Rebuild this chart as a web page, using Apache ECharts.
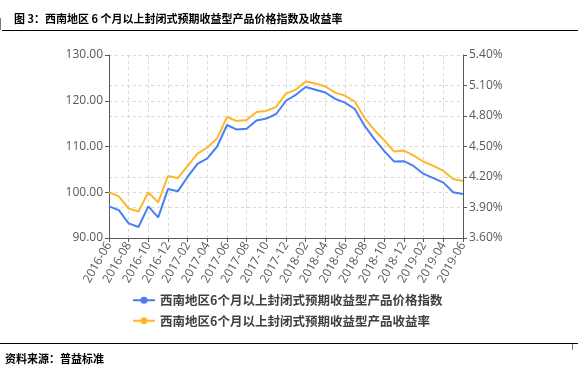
<!DOCTYPE html>
<html>
<head>
<meta charset="utf-8">
<script src="https://cdn.jsdelivr.net/npm/echarts@6/dist/echarts.min.js"></script>
<style>
  html, body { margin: 0; padding: 0; background: #fff; }
  #chart { width: 578px; height: 376px; }
</style>
</head>
<body>
<div id="chart"></div>
<script>
// 月份
const months = [
  '2016-06', '2016-07', '2016-08', '2016-09', '2016-10', '2016-11', '2016-12',
  '2017-01', '2017-02', '2017-03', '2017-04', '2017-05', '2017-06', '2017-07',
  '2017-08', '2017-09', '2017-10', '2017-11', '2017-12', '2018-01', '2018-02',
  '2018-03', '2018-04', '2018-05', '2018-06', '2018-07', '2018-08', '2018-09',
  '2018-10', '2018-11', '2018-12', '2019-01', '2019-02', '2019-03', '2019-04',
  '2019-05', '2019-06'
]
// 价格指数（左轴）
const priceIndex = [
  96.9, 96.1, 93.2, 92.4, 96.9, 94.5, 100.7, 100.2, 103.4, 106.2, 107.4, 110.0,
  114.7, 113.7, 113.9, 115.7, 116.1, 117.1, 120.0, 121.3, 123.0, 122.4, 121.8,
  120.4, 119.6, 118.2, 114.5, 111.6, 109.0, 106.7, 106.8, 105.7, 104.0, 103.1,
  102.1, 100.0, 99.6
]
// 收益率 %（右轴）
const yieldRate = [
  4.05, 4.01, 3.89, 3.86, 4.05, 3.95, 4.21, 4.19, 4.31, 4.43, 4.49, 4.58,
  4.79, 4.75, 4.76, 4.84, 4.85, 4.89, 5.02, 5.06, 5.14, 5.12, 5.09,
  5.03, 5.00, 4.94, 4.78, 4.66, 4.56, 4.45, 4.46, 4.41, 4.35, 4.31,
  4.26, 4.18, 4.16
]

const nameIndex = '西南地区6个月以上封闭式预期收益型产品价格指数'
const nameYield = '西南地区6个月以上封闭式预期收益型产品收益率'

const cjk = '"Noto Sans CJK SC", sans-serif'
const axisColor = '#595959'
const gridLine = { show: true, lineStyle: { color: '#d9d9d9', type: [3, 3], width: 1 } }

const chart = echarts.init(document.getElementById('chart'))
chart.setOption({
  animation: false,
  title: {
    text: '图 3：西南地区 6 个月以上封闭式预期收益型产品价格指数及收益率',
    left: 9,
    top: 8,
    textStyle: { fontFamily: cjk, fontSize: 11, fontWeight: 'bold', color: '#000' }
  },
  graphic: [
    { type: 'line', shape: { x1: 2, y1: 30.5, x2: 578, y2: 30.5 }, style: { stroke: '#000', lineWidth: 1 } },
    { type: 'line', shape: { x1: 0.5, y1: 18, x2: 0.5, y2: 30 }, style: { stroke: '#777', lineWidth: 1 } },
    { type: 'line', shape: { x1: 0, y1: 343.5, x2: 578, y2: 343.5 }, style: { stroke: '#000', lineWidth: 1 } },
    { type: 'line', shape: { x1: 572.5, y1: 344, x2: 572.5, y2: 350 }, style: { stroke: '#777', lineWidth: 1 } },
    {
      type: 'text', left: 5, top: 353,
      style: { text: '资料来源：普益标准', font: 'bold 11px "Noto Sans CJK SC"', fill: '#000' }
    }
  ],
  legend: {
    orient: 'vertical',
    left: 127,
    top: 289,
    itemGap: 8,
    itemWidth: 22,
    itemHeight: 9,
    textStyle: { fontFamily: cjk, fontSize: 12.5, fontWeight: 'bold', color: '#404040' },
    data: [nameIndex, nameYield]
  },
  grid: { left: 109, right: 115, top: 55, bottom: 138 },
  xAxis: {
    type: 'category',
    boundaryGap: false,
    data: months,
    axisLine: { lineStyle: { color: axisColor } },
    axisTick: { interval: 1, length: 4, lineStyle: { color: axisColor } },
    axisLabel: { interval: 1, rotate: 60, color: axisColor, fontSize: 12, fontFamily: 'Open Sans', margin: 5 },
    splitLine: Object.assign({ interval: 1 }, gridLine)
  },
  yAxis: [
    {
      type: 'value',
      min: 90,
      max: 130,
      interval: 10,
      axisLine: { show: true, lineStyle: { color: axisColor } },
      axisTick: { show: true, length: 4, lineStyle: { color: axisColor } },
      axisLabel: { color: axisColor, fontSize: 12, fontFamily: 'Open Sans', margin: 6, formatter: v => v.toFixed(2) },
      splitLine: gridLine
    },
    {
      type: 'value',
      min: 3.6,
      max: 5.4,
      interval: 0.3,
      position: 'right',
      axisLine: { show: true, lineStyle: { color: axisColor } },
      axisTick: { show: true, length: 4, lineStyle: { color: axisColor } },
      axisLabel: { color: axisColor, fontSize: 12, fontFamily: 'Open Sans', margin: 6, formatter: v => v.toFixed(2) + '%' },
      splitLine: gridLine
    }
  ],
  series: [
    {
      name: nameIndex,
      type: 'line',
      yAxisIndex: 0,
      data: priceIndex,
      symbol: 'none',
      lineStyle: { color: '#4a7ef2', width: 2 },
      itemStyle: { color: '#4a7ef2' }
    },
    {
      name: nameYield,
      type: 'line',
      yAxisIndex: 1,
      data: yieldRate,
      symbol: 'none',
      lineStyle: { color: '#fdb827', width: 2 },
      itemStyle: { color: '#fdb827' }
    }
  ]
})
</script>
</body>
</html>
